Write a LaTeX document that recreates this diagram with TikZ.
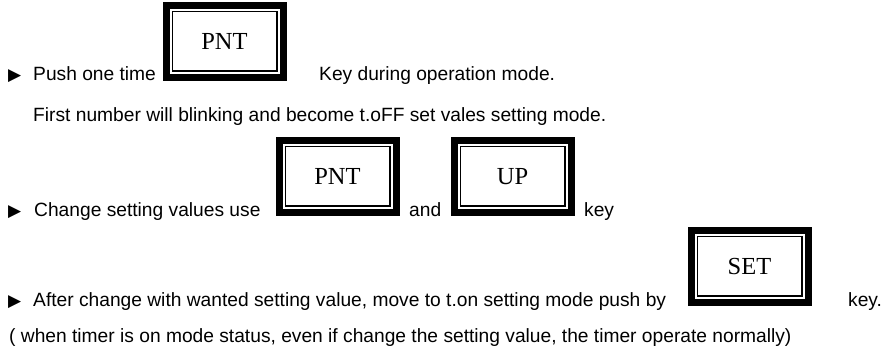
\documentclass[tikz,border=0pt]{standalone}
\usepackage{fontspec}
\setmainfont{Liberation Sans}
\newfontfamily\keyfont{Liberation Serif}
\newfontfamily\symfont{DejaVu Sans}
\begin{document}
\begin{tikzpicture}[x=1pt,y=-1pt,
  txt/.style={anchor=base west,inner sep=0pt,font=\fontsize{19.2}{20}\selectfont},
  bullet/.style={anchor=base west,inner sep=0pt,font=\symfont\fontsize{17}{18}\selectfont},
  keybox/.style={draw=black,line width=7pt,fill=white,inner sep=0pt,outer sep=0pt,
    minimum width=117pt,minimum height=72pt,text height=17pt,text depth=0pt,
    font=\keyfont\fontsize{24.5}{26}\selectfont,
    path picture={\draw[line width=1.5pt]
        ([shift={(6.25pt,-6.25pt)}]path picture bounding box.north west) rectangle
        ([shift={(-6.25pt,6.25pt)}]path picture bounding box.south east);}}
]
\useasboundingbox[fill=white] (0,0) rectangle (883,351);
% line 1
\node[bullet] (m1) at (8,80) {▶};
\node[txt] (t1a) at (33,80) {Push one time};
\node[keybox] (k1) at (224.5,41) {PNT};
\node[txt] (t1b) at (319,80) {Key during operation mode.};
% line 2
\node[txt] (t2) at (33,121) {First number will blinking and become t.oFF set vales setting mode.};
% line 3
\node[bullet] (m3) at (8,216) {▶};
\node[txt] (t3a) at (34,216) {Change setting values use};
\node[keybox] (k2) at (337.5,176) {PNT};
\node[txt] (t3b) at (409,216) {and};
\node[keybox] (k3) at (512.5,176) {UP};
\node[txt] (t3c) at (584,216) {key};
% line 4
\node[bullet] (m4) at (8,306) {▶};
\node[txt] (t4a) at (33,306) {After change with wanted setting value, move to t.on setting mode push by};
\node[keybox] (k4) at (749.5,266) {SET};
\node[txt] (t4b) at (848,306) {key.};
% line 5
\node[txt] (t5) at (9,342) {( when timer is on mode status, even if change the setting value, the timer operate normally)};
\end{tikzpicture}
\end{document}
